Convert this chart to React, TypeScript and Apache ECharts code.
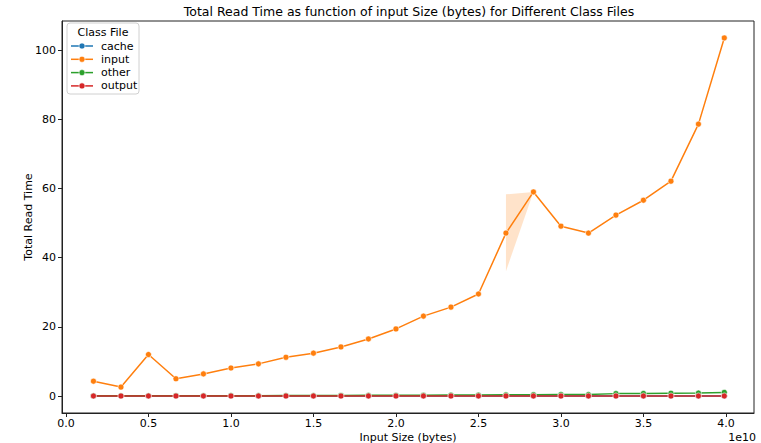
import React, { useEffect, useRef } from "react";
import * as echarts from "echarts";

const titleText = "Total Read Time as function of input Size (bytes) for Different Class Files";
const xName = "Input Size (bytes)";
const yName = "Total Read Time";
const legendTitle = "Class File";

const sizes = [
  1.667e9, 3.333e9, 5.0e9, 6.667e9, 8.333e9, 1.0e10, 1.1667e10, 1.3333e10,
  1.5e10, 1.6667e10, 1.8333e10, 2.0e10, 2.1667e10, 2.3333e10, 2.5e10, 2.6667e10,
  2.8333e10, 3.0e10, 3.1667e10, 3.3333e10, 3.5e10, 3.6667e10, 3.8333e10, 3.99e10,
];

const cacheVals = [
  0.01, 0.01, 0.01, 0.01, 0.01, 0.01, 0.01, 0.01, 0.01, 0.01, 0.01, 0.01,
  0.01, 0.01, 0.01, 0.01, 0.01, 0.01, 0.01, 0.01, 0.01, 0.01, 0.01, 0.01,
];
const inputVals = [
  4.3, 2.6, 12.0, 5.0, 6.4, 8.1, 9.3, 11.2, 12.4, 14.2, 16.5, 19.4,
  23.1, 25.7, 29.5, 47.1, 59.0, 49.1, 47.1, 52.3, 56.6, 62.1, 78.6, 103.5,
];
const otherVals = [
  0.05, 0.05, 0.08, 0.1, 0.1, 0.12, 0.12, 0.15, 0.15, 0.18, 0.2, 0.22,
  0.25, 0.28, 0.3, 0.35, 0.4, 0.42, 0.45, 0.7, 0.75, 0.8, 0.85, 1.05,
];
const outputVals = [
  0.02, 0.02, 0.02, 0.02, 0.02, 0.02, 0.02, 0.02, 0.02, 0.02, 0.02, 0.02,
  0.02, 0.02, 0.02, 0.02, 0.02, 0.02, 0.02, 0.02, 0.02, 0.02, 0.02, 0.02,
];

// confidence band of "input"
const bandX = [2.6667e10, 2.8333e10];
const bandLow = [36.1, 59.0];
const bandHigh = [58.3, 59.0];

const seriesNames = ["cache", "input", "other", "output"];
const seriesValues = [cacheVals, inputVals, otherVals, outputVals];
const colors = ["#1f77b4", "#ff7f0e", "#2ca02c", "#d62728"];

const xTicks = [0, 5e9, 1e10, 1.5e10, 2e10, 2.5e10, 3e10, 3.5e10, 4e10];
const yTicks = [0, 20, 40, 60, 80, 100];

const FONT = "DejaVu Sans";

export default function App() {
  const ref = useRef<HTMLDivElement>(null);
  useEffect(() => {
    if (!ref.current) return;
    const chart = echarts.init(ref.current, undefined, { renderer: "svg" });

    const lineSeries = seriesNames.map((name, i) => ({
      name,
      type: "line",
      data: sizes.map((x, j) => [x, seriesValues[i][j]]),
      symbol: "circle",
      symbolSize: 6,
      color: colors[i],
      lineStyle: { width: 1.5, color: colors[i] },
      itemStyle: { color: colors[i], borderColor: "#ffffff", borderWidth: 0.6 },
      z: 3 + i,
    }));

    const bandSeries = {
      type: "custom",
      name: "band",
      data: [0],
      z: 2,
      silent: true,
      renderItem: (params: any, api: any) => {
        const pts: number[][] = [];
        for (let j = 0; j < bandX.length; j++) pts.push(api.coord([bandX[j], bandHigh[j]]));
        for (let j = bandX.length - 1; j >= 0; j--) pts.push(api.coord([bandX[j], bandLow[j]]));
        return {
          type: "polygon",
          shape: { points: pts },
          style: { fill: "rgba(255,127,14,0.22)", stroke: "none" },
        };
      },
    };

    const legendX = 67;
    const legendY = 23;
    const legendItems: any[] = [
      {
        type: "rect",
        shape: { x: legendX, y: legendY, width: 72, height: 71, r: 3 },
        style: { fill: "rgba(255,255,255,0.85)", stroke: "#d0d0d0", lineWidth: 1 },
        z: 100,
      },
      {
        type: "text",
        x: 103,
        y: 32,
        style: {
          text: legendTitle,
          font: `11px '${FONT}'`,
          fill: "#000",
          align: "center",
          verticalAlign: "middle",
        },
        z: 101,
      },
    ];
    seriesNames.forEach((name, i) => {
      const y = 46 + i * 13.3;
      legendItems.push({
        type: "line",
        shape: { x1: 71, y1: y, x2: 93, y2: y },
        style: { stroke: colors[i], lineWidth: 1.5 },
        z: 101,
      });
      legendItems.push({
        type: "circle",
        shape: { cx: 82, cy: y, r: 3 },
        style: { fill: colors[i], stroke: "#fff", lineWidth: 0.6 },
        z: 102,
      });
      legendItems.push({
        type: "text",
        x: 101,
        y: y,
        style: {
          text: name,
          font: `11px '${FONT}'`,
          fill: "#000",
          align: "left",
          verticalAlign: "middle",
        },
        z: 101,
      });
    });

    const option: any = {
      animation: false,
      backgroundColor: "#ffffff",
      grid: {
        left: 62,
        right: 7,
        top: 21,
        bottom: 30,
        show: true,
        borderColor: "#222",
        borderWidth: 1,
        backgroundColor: "transparent",
      },
      xAxis: {
        type: "value",
        min: -2.4e8,
        max: 4.17e10,
        splitLine: { show: false },
        axisLine: { show: true, onZero: false, lineStyle: { color: "#222", width: 1 } },
        axisTick: { show: true, length: 4, customValues: xTicks, lineStyle: { color: "#222" } },
        axisLabel: {
          customValues: xTicks,
          formatter: (v: number) => (v / 1e10).toFixed(1),
          fontFamily: FONT,
          fontSize: 11,
          color: "#000",
          margin: 5,
        },
      },
      yAxis: {
        type: "value",
        min: -4.9,
        max: 108.4,
        splitLine: { show: false },
        axisLine: { show: true, onZero: false, lineStyle: { color: "#222", width: 1 } },
        axisTick: { show: true, length: 4, customValues: yTicks, lineStyle: { color: "#222" } },
        axisLabel: {
          customValues: yTicks,
          formatter: (v: number) => String(v),
          fontFamily: FONT,
          fontSize: 11,
          color: "#000",
          margin: 6,
        },
      },
      graphic: [
        {
          type: "text",
          x: 409,
          y: 11,
          style: {
            text: titleText,
            font: `12.5px '${FONT}'`,
            fill: "#000",
            align: "center",
            verticalAlign: "middle",
          },
        },
        {
          type: "text",
          x: 408,
          y: 437,
          style: {
            text: xName,
            font: `11px '${FONT}'`,
            fill: "#000",
            align: "center",
            verticalAlign: "middle",
          },
        },
        {
          type: "text",
          x: 756,
          y: 437,
          style: {
            text: "1e10",
            font: `11px '${FONT}'`,
            fill: "#000",
            align: "right",
            verticalAlign: "middle",
          },
        },
        {
          type: "text",
          x: 28,
          y: 217,
          rotation: Math.PI / 2,
          style: {
            text: yName,
            font: `11px '${FONT}'`,
            fill: "#000",
            align: "center",
            verticalAlign: "middle",
          },
        },
        ...legendItems,
      ],
      series: [bandSeries, ...lineSeries],
    };
    chart.setOption(option);
    return () => chart.dispose();
  }, []);

  return (
    <div
      ref={ref}
      style={{ position: "fixed", left: 0, top: 0, width: 761, height: 443 }}
    />
  );
}
